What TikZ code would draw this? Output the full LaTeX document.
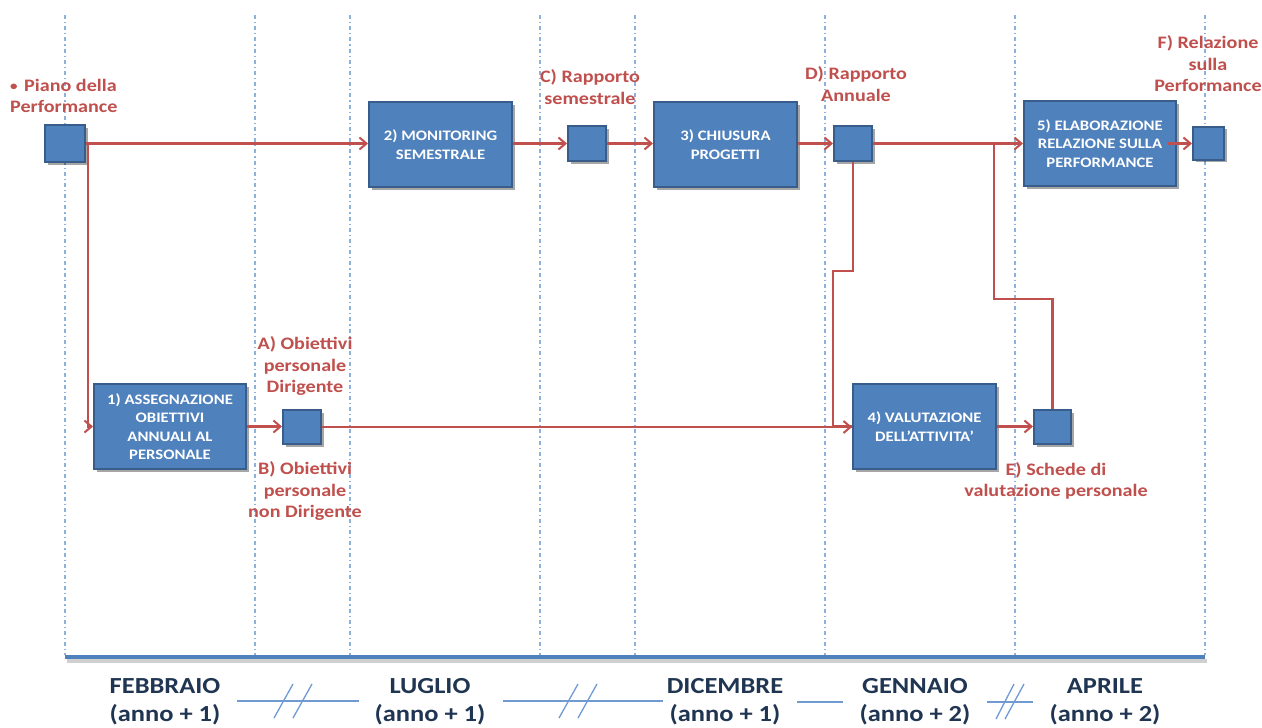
\documentclass[tikz,border=0pt]{standalone}
\usepackage{fontspec}
\setmainfont{Carlito}
\newfontfamily\labfont[FakeStretch=1.15]{Carlito}
\usetikzlibrary{arrows.meta,shadows}
\definecolor{boxfill}{HTML}{4F81BD}
\definecolor{boxline}{HTML}{385D8A}
\definecolor{conn}{HTML}{C0504D}
\definecolor{navy}{HTML}{1F3552}
\definecolor{guide}{HTML}{8DB0DD}
\definecolor{brk}{HTML}{6F9BD2}
\begin{document}
\begin{tikzpicture}[x=1pt,y=-1pt,
  guideline/.style={guide, line width=1.1pt, dash pattern=on 4pt off 3pt on 1.2pt off 3pt},
  boxshadow/.style={drop shadow={shadow xshift=2.5pt, shadow yshift=-2.5pt, opacity=0.35, fill=black}},
  proc/.style={draw=boxline, line width=2pt, fill=boxfill, text=white, align=center, inner sep=0pt,
    font=\labfont\bfseries\fontsize{14.5}{18.5}\selectfont, boxshadow},
  sqbox/.style={draw=boxline, line width=2pt, fill=boxfill, inner sep=0pt, boxshadow},
  outlabel/.style={text=conn, align=center, inner sep=0pt, font=\labfont\bfseries\fontsize{17.5}{21.5}\selectfont},
  monthlabel/.style={text=navy, align=center, inner sep=0pt, font=\labfont\bfseries\fontsize{23}{28}\selectfont},
  flow/.style={conn, line width=2.2pt},
  flowarr/.style={flow, -{Straight Barb[length=7pt, width=12pt, line width=2pt]}},
  breakline/.style={brk, line width=1.8pt},
  breakslash/.style={brk, line width=1.3pt},
  ]
\useasboundingbox (0,0) rectangle (1262,728);
\fill[white] (0,0) rectangle (1262,728);

% guide lines
\foreach \gx in {65,255,350,540,635,825,1015,1205}
  \draw[guideline] (\gx,15) -- (\gx,655);

% time axis
\draw[line width=4pt, black!30, opacity=0.6] (67,660.5) -- (1207,660.5);
\draw[line width=3.5pt, boxfill] (65,657) -- (1205,657);

% nodes
\node[sqbox, minimum width=40pt, minimum height=37pt] (sqP) at (65,143.5) {};
\node[proc, minimum width=143pt, minimum height=85pt] (box2) at (440.5,144.5) {2) MONITORING\\SEMESTRALE};
\node[sqbox, minimum width=38pt, minimum height=35pt] (sqC) at (587,143.5) {};
\node[proc, minimum width=143pt, minimum height=85pt] (box3) at (725.5,144.5) {3) CHIUSURA\\PROGETTI};
\node[sqbox, minimum width=38pt, minimum height=35pt] (sqD) at (853,143.5) {};
\node[proc, minimum width=152pt, minimum height=85pt] (box5) at (1100,143.5) {5) ELABORAZIONE\\RELAZIONE SULLA\\PERFORMANCE};
\node[sqbox, minimum width=31pt, minimum height=33pt] (sqF) at (1208.5,143) {};
\node[proc, minimum width=152pt, minimum height=85pt] (box1) at (170,426.5) {1) ASSEGNAZIONE\\OBIETTIVI\\ANNUALI AL\\PERSONALE};
\node[sqbox, minimum width=38pt, minimum height=34pt] (sqAB) at (302,427) {};
\node[proc, minimum width=143pt, minimum height=85pt] (box4) at (924.5,426.5) {4) VALUTAZIONE\\DELL’ATTIVITA’};
\node[sqbox, minimum width=37pt, minimum height=34pt] (sqE) at (1052.5,427) {};

% labels
\node[outlabel, align=left, anchor=west] (lP) at (10,96) {\raisebox{1.2pt}{\fontsize{13}{13}\selectfont •}\hspace{2pt} Piano della\\Performance};
\node[outlabel] (lC) at (590,87) {C) Rapporto\\semestrale};
\node[outlabel] (lD) at (856,84) {D) Rapporto\\Annuale};
\node[outlabel] (lF) at (1208,64) {F) Relazione\\sulla\\Performance};
\node[outlabel] (lA) at (305,366) {A) Obiettivi\\personale\\Dirigente};
\node[outlabel] (lB) at (305,491) {B) Obiettivi\\personale\\non Dirigente};
\node[outlabel] (lE) at (1056,481) {E) Schede di\\valutazione personale};

% month labels
\node[monthlabel] (mFeb) at (165,702) {FEBBRAIO\\(anno + 1)};
\node[monthlabel] (mLug) at (430,702) {LUGLIO\\(anno + 1)};
\node[monthlabel] (mDic) at (725,702) {DICEMBRE\\(anno + 1)};
\node[monthlabel] (mGen) at (915,702) {GENNAIO\\(anno + 2)};
\node[monthlabel] (mApr) at (1105,702) {APRILE\\(anno + 2)};

% connectors
\coordinate (br) at (994,143.5);
\coordinate (kE) at (1052.5,299);
\coordinate (kD1) at (833,271);
\coordinate (f0) at ([xshift=-9pt]box5.east);

\draw[flowarr] (sqP.east) -- (sqP.east -| box2.west);
\draw[flowarr] ([xshift=2pt]sqP.east) |- (box1.west);
\draw[flowarr] (box2.east |- sqC.west) -- (sqC.west);
\draw[flowarr] (sqC.east) -- (sqC.east -| box3.west);
\draw[flowarr] (box3.east |- sqD.west) -- (sqD.west);
\draw[flowarr] (sqD.east) -- (sqD.east -| box5.west);
\draw[flowarr] (f0) -- (f0 -| sqF.west);
\draw[flow] (br) |- (kE) -- (sqE.north);
\draw[flow] (sqD.south) |- (kD1) |- (box4.west);
\draw[flowarr] (box1.east) -- (box1.east -| sqAB.west);
\draw[flowarr] (sqAB.east) -- (sqAB.east -| box4.west);
\draw[flowarr] (box4.east) -- (box4.east -| sqE.west);

% break marks
\draw[breakline] (237,701) -- (359,701);
\draw[breakslash] (274,718) -- (293,684) (293,718) -- (312,684);
\draw[breakline] (503,701) -- (663,701);
\draw[breakslash] (559,718) -- (578,684) (578,718) -- (597,684);
\draw[breakline] (797,702) -- (843,702);
\draw[breakline] (987,702) -- (1033,702);
\draw[breakslash] (996,719) -- (1014,684) (1005,719) -- (1024,684);
\end{tikzpicture}
\end{document}
